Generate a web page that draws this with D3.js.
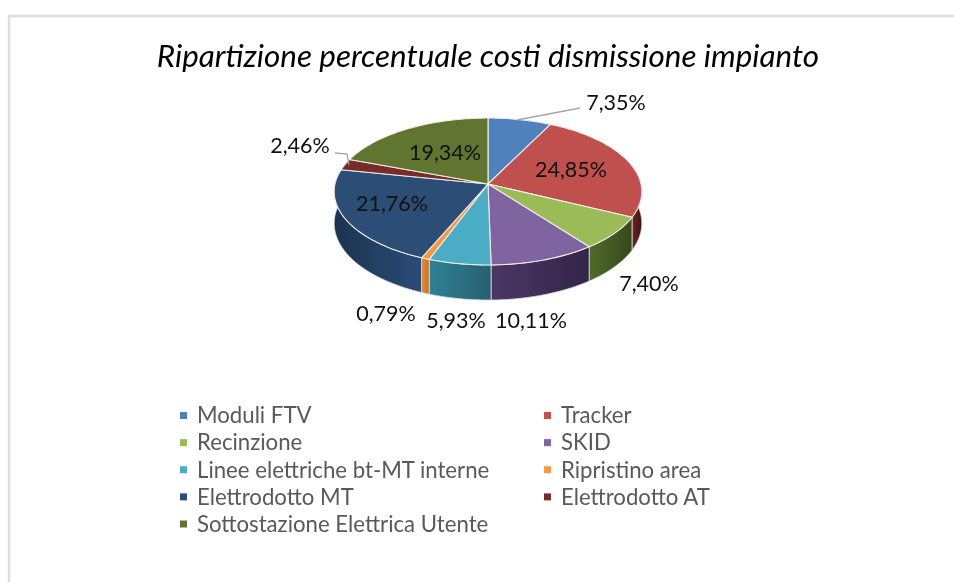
<!DOCTYPE html>
<html>
<head>
<meta charset="utf-8">
<script src="https://cdn.jsdelivr.net/npm/d3@7"></script>
<style>
  html, body { margin: 0; padding: 0; background: #fff; }
  svg { display: block; filter: blur(0.4px); }
  text { font-family: Lato, "Open Sans", sans-serif; }
</style>
</head>
<body>
<div id="chart"></div>
<script>
// chart values
const categories = [
  "Moduli FTV", "Tracker", "Recinzione", "SKID", "Linee elettriche bt-MT interne",
  "Ripristino area", "Elettrodotto MT", "Elettrodotto AT", "Sottostazione Elettrica Utente"
];
const shares = [7.35, 24.85, 7.40, 10.11, 5.93, 0.79, 21.76, 2.46, 19.34];
const shareLabels = ["7,35%", "24,85%", "7,40%", "10,11%", "5,93%", "0,79%", "21,76%", "2,46%", "19,34%"];
const title = "Ripartizione percentuale costi dismissione impianto";

// colours
const topColors = ["#4f81bd", "#c0504d", "#9bbb59", "#8064a2", "#4bacc6", "#f79646", "#2c4d75", "#772c2a", "#5f7530"];
const wallLight = ["#3b618e", "#6e2422", "#4f6a2a", "#4a3764", "#2f8096", "#e08a3c", "#2a4c78", "#4a1917", "#3c4c1c"];
const wallDark = ["#2c4a6e", "#3f1413", "#36481b", "#33254a", "#27606f", "#c87528", "#1c3350", "#2e0f0e", "#2b3814"];

const svg = d3.select("#chart").append("svg").attr("width", 954).attr("height", 582);

// page frame
svg.append("path")
  .attr("d", "M954,16H9V582")
  .attr("fill", "none")
  .attr("stroke", "#dedede")
  .attr("stroke-width", 2.5);

svg.append("text")
  .attr("x", 488)
  .attr("y", 67)
  .attr("text-anchor", "middle")
  .attr("font-size", 31.4)
  .attr("font-style", "italic")
  .attr("fill", "#000")
  .text(title);

// pie geometry with a perspective tilt, back of the disc is smaller
const cx = 488, cy = 184, radius = 153, squash = 72.7, persp = 0.102, depth = 31.5;

function project(a, drop = 0) {
  const u = Math.sin(a), v = -Math.cos(a);
  const w = 1 - persp * v;
  return [cx + radius * u / w, cy + (squash * v + drop) / w];
}

function arcPoints(a0, a1, drop) {
  const n = Math.max(2, Math.ceil(Math.abs(a1 - a0) / 0.02));
  return d3.range(n + 1).map((i) => project(a0 + (a1 - a0) * i / n, drop));
}

const slices = d3.pie().sort(null).value((d) => d)(shares);
const line = d3.line();

const defs = svg.append("defs");
slices.forEach((s, i) => {
  const g = defs.append("linearGradient").attr("id", "wall" + i);
  g.append("stop").attr("offset", "0%").attr("stop-color", i < 6 ? wallLight[i] : wallDark[i]);
  g.append("stop").attr("offset", "100%").attr("stop-color", i < 6 ? wallDark[i] : wallLight[i]);
});

// walls first, only the part facing the viewer
const wallFrom = Math.PI * 0.47, wallTo = Math.PI * 1.53;
const pie = svg.append("g");
slices.forEach((s, i) => {
  const a0 = Math.max(s.startAngle, wallFrom), a1 = Math.min(s.endAngle, wallTo);
  if (a1 <= a0) return;
  const pts = arcPoints(a0, a1, 0).concat(arcPoints(a1, a0, depth));
  pie.append("path")
    .attr("d", line(pts) + "Z")
    .attr("fill", `url(#wall${i})`)
    .attr("stroke", "#d9dde0")
    .attr("stroke-width", 0.8);
});

// top of the disc
slices.forEach((s, i) => {
  const pts = [[cx, cy]].concat(arcPoints(s.startAngle, s.endAngle, 0));
  pie.append("path")
    .attr("d", line(pts) + "Z")
    .attr("fill", topColors[i])
    .attr("stroke", "#efeee6")
    .attr("stroke-width", 1.1)
    .attr("stroke-linejoin", "round");
});

// leader lines for the two labels pulled away from their slices
const leaders = [
  [[517, 120], [580, 108]],
  [[335, 153], [347, 154], [349, 165]]
];
svg.selectAll(".leader").data(leaders).join("path")
  .attr("class", "leader")
  .attr("d", line)
  .attr("fill", "none")
  .attr("stroke", "#a6a6a6")
  .attr("stroke-width", 1.3);

// label placement, same order as shares
const labelX = [616, 571, 649, 531, 456, 386, 392, 300, 445];
const labelY = [102, 169, 283, 320, 320, 313, 203, 145, 152];
svg.selectAll(".share").data(shareLabels).join("text")
  .attr("class", "share")
  .attr("x", (d, i) => labelX[i])
  .attr("y", (d, i) => labelY[i])
  .attr("dy", "0.35em")
  .attr("text-anchor", "middle")
  .attr("font-size", 21.5)
  .attr("fill", "#111")
  .text((d) => d);

// legend, filled row by row in two columns
const legendCol = d3.scalePoint().domain([0, 1]).range([180, 544]);
const legendRow = d3.scaleLinear().domain([0, 4]).range([415.5, 524]);
const legend = svg.selectAll(".legend").data(categories).join("g")
  .attr("class", "legend")
  .attr("transform", (d, i) => `translate(${legendCol(i % 2)},${legendRow(Math.floor(i / 2))})`);
legend.append("rect")
  .attr("x", 0).attr("y", -3.5).attr("width", 7).attr("height", 7)
  .attr("fill", (d, i) => topColors[i]);
legend.append("text")
  .attr("x", 17)
  .attr("dy", "0.35em")
  .attr("font-size", 22.2)
  .attr("fill", "#595959")
  .text((d) => d);
</script>
</body>
</html>
